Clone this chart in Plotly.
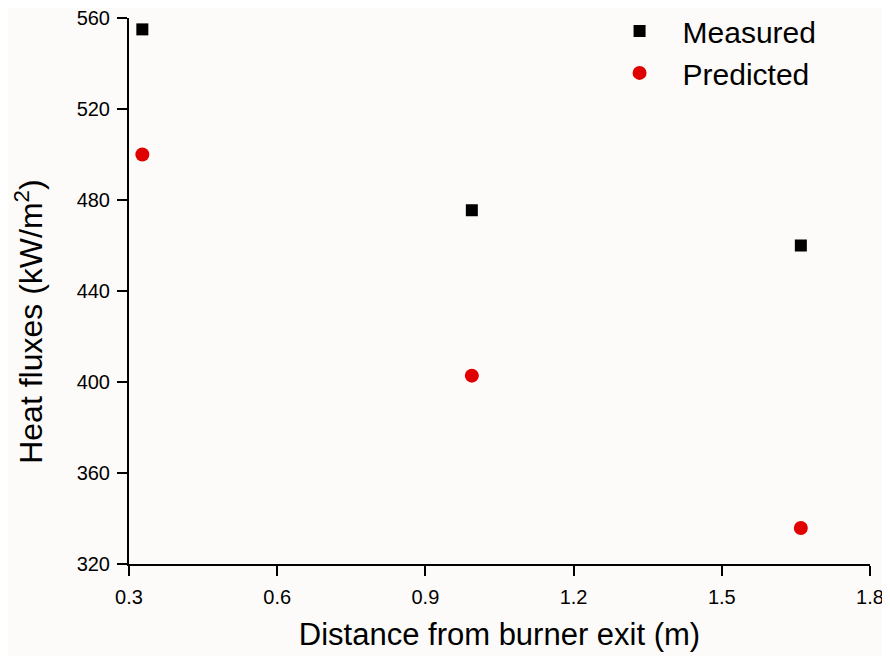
import plotly.graph_objects as go

distance = [0.327, 0.994, 1.660]
measured = [555, 475.5, 460]
predicted = [500, 402.8, 335.8]

x_ticks = [0.3, 0.6, 0.9, 1.2, 1.5, 1.8]
y_ticks = [320, 360, 400, 440, 480, 520, 560]

FONT = "Liberation Sans, Arial, sans-serif"
BG = "#fdfbf9"

fig = go.Figure()
fig.add_trace(go.Scatter(
    x=distance, y=measured, mode="markers", name="Measured",
    marker=dict(symbol="square", size=12, color="black"), cliponaxis=False))
fig.add_trace(go.Scatter(
    x=distance, y=predicted, mode="markers", name="Predicted",
    marker=dict(symbol="circle", size=14, color="#e00000"), cliponaxis=False))

# page body adds an 8px offset, so the figure is 882x648
fig.update_layout(
    width=882, height=648,
    margin=dict(l=121, r=20, t=10, b=92, autoexpand=False),
    paper_bgcolor=BG, plot_bgcolor=BG,
    font=dict(family=FONT, color="black"),
    showlegend=True,
    legend=dict(x=0.631, y=1.024, xanchor="left", yanchor="top",
                bgcolor="rgba(0,0,0,0)", font=dict(size=30),
                itemwidth=76, tracegroupgap=0),
)
fig.add_annotation(
    text="Heat fluxes (kW/m<sup>2</sup>)", textangle=-90,
    xref="paper", yref="paper", x=-0.136, y=0.444,
    xanchor="center", yanchor="middle", showarrow=False,
    font=dict(size=32, family=FONT, color="black"),
)
fig.update_xaxes(
    range=[0.3, 1.8], tickvals=x_ticks, ticktext=[f"{v:.1f}" for v in x_ticks],
    showgrid=False, zeroline=False, showline=True, linecolor="black", linewidth=2,
    ticks="outside", ticklen=10, tickwidth=2, tickcolor="black",
    tickfont=dict(size=20), ticklabelstandoff=4, automargin=False,
    ticklabeloverflow="allow",
    title=dict(text="Distance from burner exit (m)", font=dict(size=31), standoff=16),
)
fig.update_yaxes(
    range=[320, 560], tickvals=y_ticks,
    showgrid=False, zeroline=False, showline=True, linecolor="black", linewidth=2,
    ticks="outside", ticklen=10, tickwidth=2, tickcolor="black",
    tickfont=dict(size=20), ticklabelstandoff=3, automargin=False,
    ticklabeloverflow="allow",
)
fig.write_html("out.html")
